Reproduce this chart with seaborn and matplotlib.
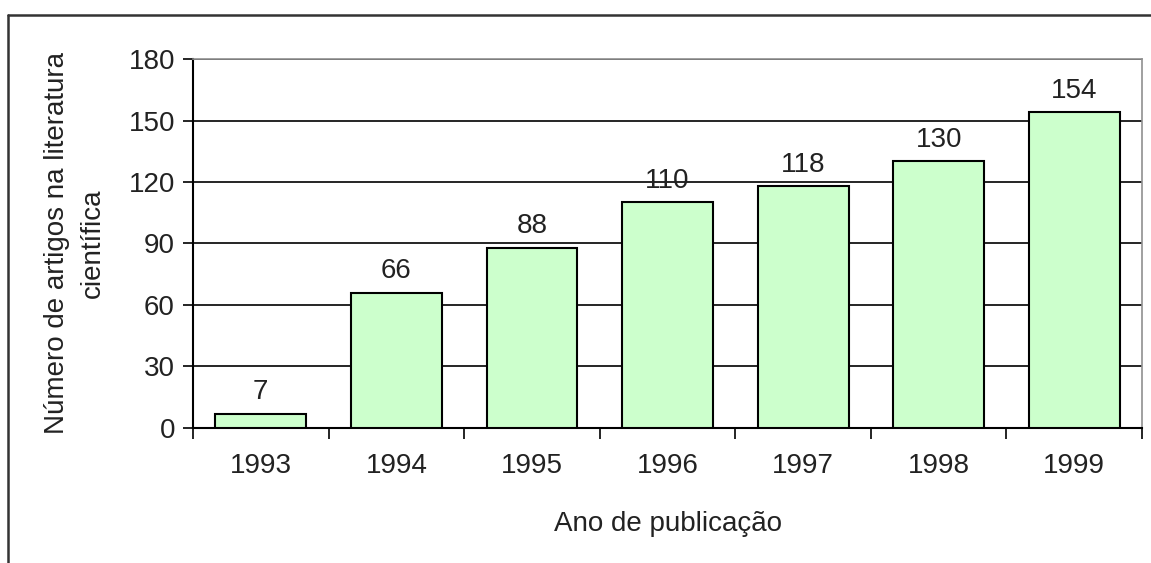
import numpy as np
import pandas as pd
import matplotlib
matplotlib.use("Agg")
import matplotlib.pyplot as plt
import seaborn as sns
from matplotlib.lines import Line2D

years = ["1993", "1994", "1995", "1996", "1997", "1998", "1999"]
articles = [7, 66, 88, 110, 118, 130, 154]
y_ticks = [0, 30, 60, 90, 120, 150, 180]

df = pd.DataFrame({"ano": years, "artigos": articles})

sns.set_style("white")
plt.rcParams["font.family"] = ["Liberation Sans", "DejaVu Sans"]

fig = plt.figure(figsize=(11.51, 5.63), dpi=100)
ax = fig.add_axes([0.1677, 0.2398, 0.8245, 0.6554])

sns.barplot(data=df, x="ano", y="artigos", color="#CCFFCC", saturation=1,
            edgecolor="black", linewidth=1.5, width=0.67, ax=ax, zorder=3)

ax.set_xlim(-0.5, len(years) - 0.5)
ax.set_ylim(0, 180)
ax.set_yticks(y_ticks)
ax.grid(axis="y", color="black", linewidth=1.2, zorder=0)
ax.set_axisbelow(True)

for c in ax.containers:
    ax.bar_label(c, fontsize=20, padding=6, color="#222222")

ax.tick_params(axis="y", labelsize=20, length=7, width=1.2, direction="out",
               left=True, colors="black", labelcolor="#222222", pad=6)
ax.tick_params(axis="x", which="major", labelsize=20, length=0, pad=18,
               labelcolor="#222222")
ax.set_xticks(np.arange(-0.5, len(years)), minor=True)
ax.tick_params(axis="x", which="minor", length=8, width=1.2, direction="out",
               bottom=True, colors="black")

for s in ["left", "bottom"]:
    ax.spines[s].set_color("black")
    ax.spines[s].set_linewidth(1.5)
for s in ["top", "right"]:
    ax.spines[s].set_color("#909090")
    ax.spines[s].set_linewidth(1.2)

ax.set_xlabel("Ano de publicação", fontsize=20, color="#222222", labelpad=23)
ax.set_ylabel("Número de artigos na literatura\ncientífica", fontsize=20,
              color="#222222", labelpad=16, linespacing=1.5)

# outer chart border (Excel-style frame)
fig.add_artist(Line2D([0.007, 1.0], [0.973, 0.973], transform=fig.transFigure,
                      color="#333333", linewidth=1.8))
fig.add_artist(Line2D([0.007, 0.007], [0.0, 0.973], transform=fig.transFigure,
                      color="#333333", linewidth=1.8))

plt.savefig("out.png", dpi=100)
